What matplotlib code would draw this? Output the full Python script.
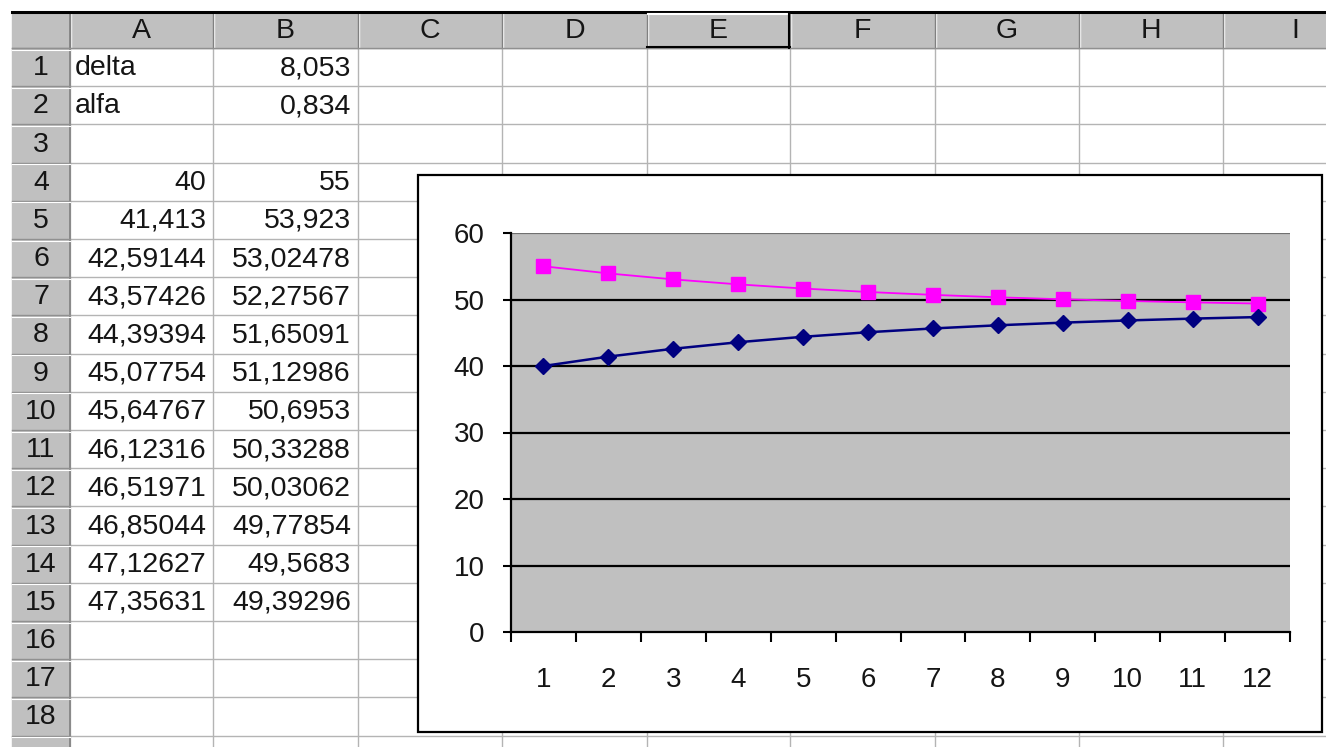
import numpy as np
import matplotlib.pyplot as plt
from matplotlib.patches import Rectangle

plt.rcParams['font.family'] = ['Liberation Sans', 'DejaVu Sans']

# spreadsheet contents
col_letters = ["A", "B", "C", "D", "E", "F", "G", "H", "I"]
row_labels = [str(i) for i in range(1, 19)]
param_names = ["delta", "alfa"]
param_values = ["8,053", "0,834"]
series_a = [40, 41.413, 42.59144, 43.57426, 44.39394, 45.07754,
            45.64767, 46.12316, 46.51971, 46.85044, 47.12627, 47.35631]
series_b = [55, 53.923, 53.02478, 52.27567, 51.65091, 51.12986,
            50.6953, 50.33288, 50.03062, 49.77854, 49.5683, 49.39296]
categories = list(range(1, 13))
y_ticks = [0, 10, 20, 30, 40, 50, 60]


def fmt(v):
    return str(v).replace(".", ",")


W, H = 1326, 747
fig = plt.figure(figsize=(W / 100, H / 100), dpi=100)
bg = fig.add_axes([0, 0, 1, 1])
bg.set_xlim(0, W)
bg.set_ylim(H, 0)
bg.axis("off")

grid_c = "#b4b4b4"
head_c = "#c0c0c0"
top = 12
head_b = 48
row_h = 38.2
hdr_l, hdr_r = 12, 70
col_edges = [70, 213, 358, 502, 647, 790, 935, 1079, 1223, 1368]
fs = 20.5
txt_c = "#151515"

# cell grid
for k in range(20):
    y = head_b + k * row_h
    bg.plot([hdr_r, W], [y, y], color=grid_c, lw=1, zorder=1)
for x in col_edges[1:]:
    bg.plot([x, x], [head_b, H], color=grid_c, lw=1, zorder=1)

# column header
bg.add_patch(Rectangle((hdr_l, top), W - hdr_l, head_b - top, color=head_c, zorder=2))
bg.plot([hdr_l, W], [top, top], color="black", lw=2.2, zorder=4)
for i, letter in enumerate(col_letters):
    x0, x1 = col_edges[i], col_edges[i + 1]
    bg.plot([x0 + 1, x0 + 1], [top + 1, head_b], color="white", lw=1, zorder=3)
    bg.plot([x0, x0], [top, head_b], color="#808080", lw=1, zorder=3)
    bg.text((x0 + x1) / 2, (top + head_b) / 2 + 1, letter, ha="center", va="center",
            fontsize=fs, color=txt_c, zorder=5)
# active column E raised look
e0, e1 = col_edges[4], col_edges[5]
bg.plot([e0 + 1, e1 - 1], [top + 2, top + 2], color="white", lw=1.5, zorder=4)
bg.plot([e1 - 1, e1 - 1], [top + 1, head_b], color="black", lw=1.5, zorder=4)
bg.plot([e0, e1], [head_b - 1, head_b - 1], color="black", lw=1.5, zorder=4)
bg.plot([hdr_l, W], [head_b, head_b], color="#909090", lw=1, zorder=3)

# row header
bg.add_patch(Rectangle((hdr_l, head_b), hdr_r - hdr_l, H - head_b, color=head_c, zorder=2))
bg.plot([hdr_r, hdr_r], [top, H], color="#808080", lw=1.2, zorder=3)
for k in range(20):
    y = head_b + k * row_h
    bg.plot([hdr_l, hdr_r], [y, y], color="#909090", lw=1, zorder=3)
    bg.plot([hdr_l, hdr_r], [y + 1.5, y + 1.5], color="white", lw=0.8, zorder=3)
for k, lab in enumerate(row_labels):
    bg.text(41, head_b + (k + 0.5) * row_h + 1, lab, ha="center", va="center",
            fontsize=fs, color=txt_c, zorder=5)

# cell values
for k, (name, val) in enumerate(zip(param_names, param_values)):
    yc = head_b + (k + 0.5) * row_h + 1
    bg.text(75, yc, name, ha="left", va="center", fontsize=fs, color=txt_c, zorder=5)
    bg.text(351, yc, val, ha="right", va="center", fontsize=fs, color=txt_c, zorder=5)
for k, (a, b) in enumerate(zip(series_a, series_b)):
    yc = head_b + (k + 3.5) * row_h + 1
    bg.text(206, yc, fmt(a), ha="right", va="center", fontsize=fs, color=txt_c, zorder=5)
    bg.text(351, yc, fmt(b), ha="right", va="center", fontsize=fs, color=txt_c, zorder=5)

# chart frame
bg.add_patch(Rectangle((418, 175), 1322 - 418, 732 - 175, facecolor="white",
                       edgecolor="black", lw=1.6, zorder=6))

# chart plot area
pl, pr, pt, pb = 511, 1290, 233, 632
ax = fig.add_axes([pl / W, 1 - pb / H, (pr - pl) / W, (pb - pt) / H])
ax.set_facecolor("#c0c0c0")
ax.set_xlim(0.5, 12.5)
ax.set_ylim(0, 60)
for y in y_ticks[1:]:
    ax.axhline(y, color="black" if y < 60 else "#707070", lw=1.6, zorder=1)
ax.plot(categories, series_b, color="#ff00ff", lw=1.3, marker="s", ms=9.5,
        mfc="#ff00ff", mec="#ff00ff", zorder=3)
ax.plot(categories, series_a, color="#000080", lw=1.8, marker="D", ms=8,
        mfc="#000080", mec="#000080", zorder=4)
for s in ["top", "right"]:
    ax.spines[s].set_visible(False)
for s in ["left", "bottom"]:
    ax.spines[s].set_color("black")
    ax.spines[s].set_linewidth(1.6)
ax.set_yticks(y_ticks)
ax.tick_params(axis="y", length=6, width=1.5, direction="out", pad=13, labelsize=20,
               labelcolor=txt_c)
ax.set_xticks(categories)
ax.set_xticks(np.arange(0.5, 13, 1), minor=True)
ax.tick_params(axis="x", which="major", length=0, pad=25, labelsize=20, labelcolor=txt_c)
ax.tick_params(axis="x", which="minor", length=7, width=1.5, direction="out")

fig.savefig("out.png", dpi=100)
